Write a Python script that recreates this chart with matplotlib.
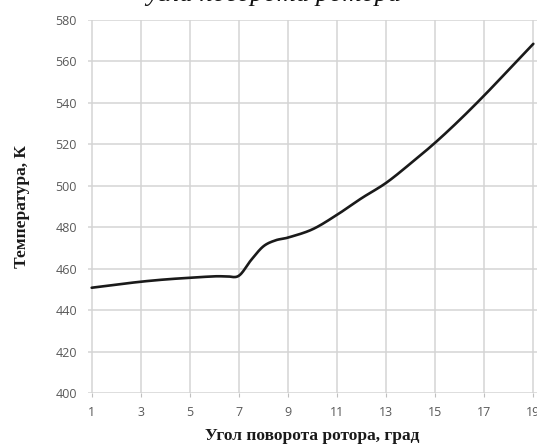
import numpy as np
import matplotlib.pyplot as plt

# angle of rotor rotation, deg  /  temperature, K
angle = [1, 2, 3, 4, 5, 6, 6.5, 7, 7.5, 8, 8.5, 9, 10, 11, 12, 13, 14, 15, 16, 17, 18, 19]
temp = [450.8, 452.3, 453.7, 454.8, 455.6, 456.3, 456.3, 456.6, 464.2, 470.8, 473.7,
        475.0, 479.0, 486.0, 494.0, 501.4, 510.8, 520.8, 531.8, 543.6, 556.0, 568.5]
xticks = [1, 3, 5, 7, 9, 11, 13, 15, 17, 19]
yticks = [400, 420, 440, 460, 480, 500, 520, 540, 560, 580]


def smooth(x, y, n=20):
    # catmull-rom through the points, like excel's smoothed line
    x = np.asarray(x, float)
    y = np.asarray(y, float)
    px = np.concatenate([[2 * x[0] - x[1]], x, [2 * x[-1] - x[-2]]])
    py = np.concatenate([[2 * y[0] - y[1]], y, [2 * y[-1] - y[-2]]])
    xs, ys = [], []
    t = np.linspace(0, 1, n, endpoint=False)
    for i in range(1, len(px) - 2):
        for p, out in ((px, xs), (py, ys)):
            p0, p1, p2, p3 = p[i - 1], p[i], p[i + 1], p[i + 2]
            out.extend(0.5 * (2 * p1 + (-p0 + p2) * t + (2 * p0 - 5 * p1 + 4 * p2 - p3) * t ** 2
                              + (-p0 + 3 * p1 - 3 * p2 + p3) * t ** 3))
    xs.append(x[-1])
    ys.append(y[-1])
    return xs, ys


fig = plt.figure(figsize=(5.37, 4.46), dpi=100)
ax = fig.add_axes([88 / 537, 53 / 446, 449 / 537, 373 / 446])

sx, sy = smooth(angle, temp)
ax.plot(sx, sy, color='#1a1a1a', lw=1.9, solid_capstyle='round', zorder=3)

ax.set_xlim(0.85, 19.15)
ax.set_ylim(400, 580)
ax.set_xticks(xticks)
ax.set_yticks(yticks)
ax.grid(True, color='#d4d4d4', lw=1.1)
for s in ax.spines.values():
    s.set_visible(False)
ax.tick_params(colors='#bfbfbf', labelcolor='#595959', labelsize=9, length=3)
for lab in ax.get_xticklabels() + ax.get_yticklabels():
    lab.set_family('Open Sans')
ax.tick_params(axis='y', length=0, pad=8)
ax.tick_params(axis='x', pad=6)

ax.set_xlabel('Угол поворота ротора, град', family='Liberation Serif', fontweight='bold',
              fontsize=12.5, labelpad=7, color='#1a1a1a')
ax.set_ylabel('Температура, К', family='Liberation Serif', fontweight='bold',
              fontsize=12.5, labelpad=18, color='#1a1a1a')

fig.text(0.51, 1.012, 'угла поворота ротора', family='Liberation Serif', style='italic',
         fontsize=19, ha='center', va='center', color='#111111')

fig.savefig('out.png', dpi=100)
